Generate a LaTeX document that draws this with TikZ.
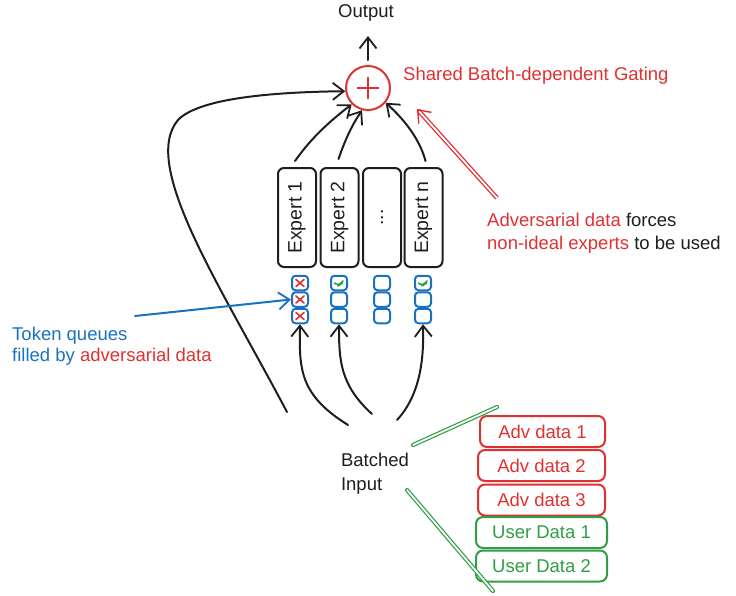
\documentclass[tikz,border=0pt]{standalone}
\usepackage{fontspec}
\setmainfont{Liberation Sans}
\usetikzlibrary{arrows.meta}
\definecolor{ink}{HTML}{1E1E1E}
\definecolor{inkred}{HTML}{E03131}
\definecolor{inkgreen}{HTML}{2F9E44}
\definecolor{inkblue}{HTML}{1971C2}
\begin{document}
\begin{tikzpicture}[x=1pt,y=-1pt,
  txt/.style={font=\fontsize{18.5}{24}\selectfont, text=ink, inner sep=0pt},
  barb/.style={-{Straight Barb[length=11pt,width=17pt,line width=1.8pt]}},
  flow/.style={barb, draw=ink, line width=2pt, line cap=round},
  expertbox/.style={draw=ink, line width=2pt, rounded corners=6pt, rotate=90,
    minimum width=99pt, minimum height=38pt, inner sep=0pt,
    font=\fontsize{19.5}{22}\selectfont, text=ink},
  slot/.style={draw=inkblue, line width=2pt, rounded corners=3.5pt,
    minimum width=16pt, minimum height=14.5pt, inner sep=0pt},
  badslot/.style={slot, path picture={
    \draw[inkred, line width=1.6pt, line cap=round]
      ([shift={(-4pt,-3.5pt)}]path picture bounding box.center) -- ++(8pt,7pt)
      ([shift={(-4pt,3.5pt)}]path picture bounding box.center) -- ++(8pt,-7pt);}},
  goodslot/.style={slot, path picture={
    \draw[inkgreen, line width=1.6pt, line cap=round, line join=round]
      ([shift={(-4.5pt,0pt)}]path picture bounding box.center) -- ++(3.5pt,-3pt) -- ++(5pt,5pt)
      ([shift={(-1pt,-3pt)}]path picture bounding box.center) -- ++(4.5pt,3pt);}},
  databox/.style={draw=#1, line width=2pt, rounded corners=7pt,
    minimum height=31pt, inner sep=0pt, text=#1,
    font=\fontsize{18.5}{22}\selectfont},
  brace/.style={draw=inkgreen, line width=1.2pt, double=white, double distance=1.8pt, line cap=round},
]
\useasboundingbox (0,0) rectangle (736,595);

% gating node and output
\node[draw=inkred, line width=2pt, circle, minimum size=44pt, inner sep=0pt] (gate) at (368,88) {};
\draw[inkred, line width=2pt] (gate.center) ++(-11,0) -- ++(22,0)
  (gate.center) ++(0,-11) -- ++(0,22);
\node[txt, anchor=base] (out) at (366,17) {Output};
\draw[flow] (368,60) coordinate (gtop) -- (368,36) coordinate (otip);
\node[txt, anchor=west, text=inkred] (gatelbl) at (403,76) {Shared Batch-dependent Gating};

% experts
\node[expertbox] (e1) at (297,217.5) {Expert 1};
\node[expertbox] (e2) at (339.5,217.5) {Expert 2};
\node[expertbox] (e3) at (382,217.5) {...};
\node[expertbox] (e4) at (423.5,217.5) {Expert n};

% token queues
\node[badslot]  (q11) at (300,283) {};
\node[badslot]  (q12) at (300,299.5) {};
\node[badslot]  (q13) at (300,316) {};
\node[goodslot] (q21) at (339,283) {};
\node[slot]     (q22) at (339,299.5) {};
\node[slot]     (q23) at (339,316) {};
\node[slot]     (q31) at (382,283) {};
\node[slot]     (q32) at (382,299.5) {};
\node[slot]     (q33) at (382,316) {};
\node[goodslot] (q41) at (423,283) {};
\node[slot]     (q42) at (423,299.5) {};
\node[slot]     (q43) at (423,316) {};

% experts to gate
\draw[flow] ([xshift=-2pt]e1.east) ++(0,-6) .. controls (310,140) and (325,125) .. (gate.225);
\draw[flow] ([xshift=-1pt]e2.east) ++(0,-8) .. controls (345,140) and (352,125) .. (gate.255);
\draw[flow] ([xshift=2pt]e4.east) ++(0,-6) .. controls (420,140) and (405,120) .. (gate.320);

% batched input and its feeds
\node[txt, align=left] (batch) at (375,474) {Batched\\Input};
\coordinate (b1) at (348,425);
\coordinate (b2) at (372,414);
\coordinate (b3) at (397,420);
\draw[flow] (b1) .. controls (300,395) and (299,370) .. (q13.south);
\draw[flow] (b2) .. controls (340,385) and (339,360) .. (q23.south);
\draw[flow] (b3) .. controls (420,395) and (424,360) .. (q43.south);

% bypass around the experts
\coordinate (bypass) at (287,412);
\draw[flow] (bypass) .. controls (220,285) and (140,165) .. (178,120)
  .. controls (200,97) and (280,92) .. (gate.188);

% annotation: adversarial data
\coordinate (advfrom) at (497,198);
\coordinate (advtip) at (417,109);
\draw[draw=inkred, line width=1.3pt, double=white, double distance=1.8pt,
  -{Straight Barb[length=11pt,width=17pt,line width=1.4pt]}] (advfrom) -- (advtip);
\node[txt, anchor=base west, text=inkred] (adv1) at (487,226) {Adversarial data \textcolor{ink}{forces}};
\node[txt, anchor=base west, text=inkred] (adv2) at (487,249) {non-ideal experts \textcolor{ink}{to be used}};

% annotation: token queues
\coordinate (tqfrom) at (135,316);
\draw[barb, draw=inkblue, line width=2pt, line cap=round] (tqfrom) -- (q12.west);
\node[txt, anchor=base west, text=inkblue] (tq1) at (12,340) {Token queues};
\node[txt, anchor=base west, text=inkblue] (tq2) at (12,361) {filled by \textcolor{inkred}{adversarial data}};

% batch contents
\node[databox=inkred, minimum width=125pt] (d1) at (542.5,431.5) {Adv data 1};
\node[databox=inkred, minimum width=127pt] (d2) at (541.5,465.5) {Adv data 2};
\node[databox=inkred, minimum width=127pt] (d3) at (541.5,500) {Adv data 3};
\node[databox=inkgreen, minimum width=131pt] (d4) at (541.5,532.5) {User Data 1};
\node[databox=inkgreen, minimum width=131pt] (d5) at (541.5,566) {User Data 2};
\coordinate (brtop) at (413,445);
\coordinate (brtopend) at (497,407);
\coordinate (brbot) at (407,490);
\coordinate (brbotend) at (493,591);
\draw[brace] (brtop) -- (brtopend);
\draw[brace] (brbot) -- (brbotend);
\end{tikzpicture}
\end{document}
